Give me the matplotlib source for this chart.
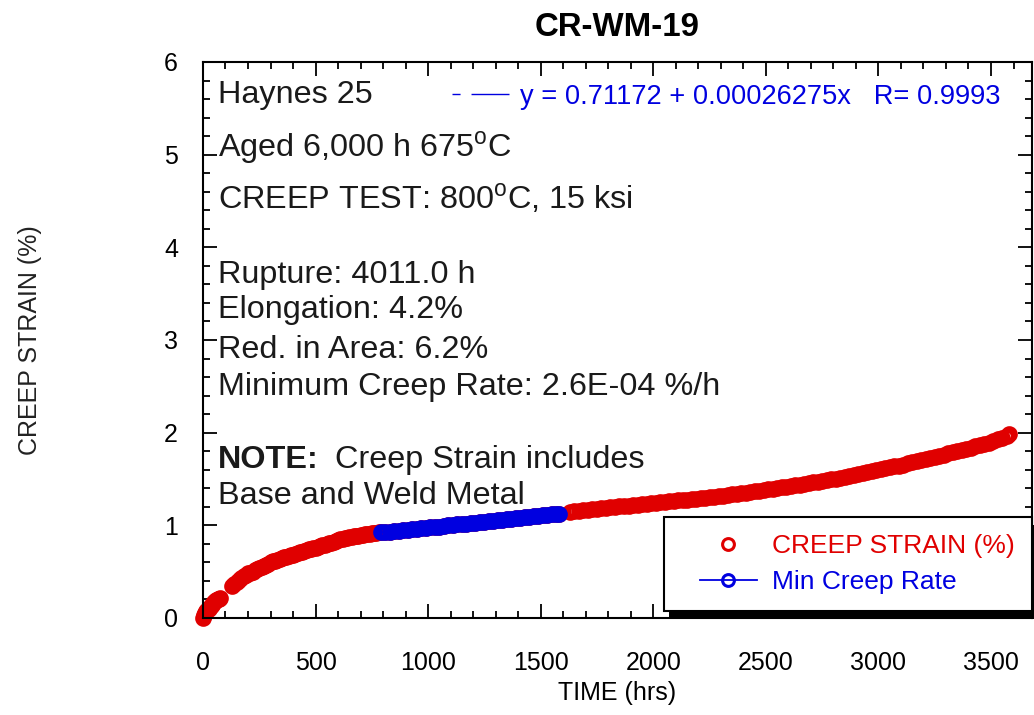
import matplotlib
matplotlib.use("Agg")
import matplotlib.pyplot as plt
from matplotlib.ticker import MultipleLocator
from matplotlib.patches import Rectangle
from matplotlib.transforms import IdentityTransform
from matplotlib.lines import Line2D
from matplotlib.legend_handler import HandlerLine2D

plt.rcParams['font.family'] = ['Liberation Sans', 'DejaVu Sans']
plt.rcParams['mathtext.fontset'] = 'custom'
plt.rcParams['mathtext.rm'] = 'Liberation Sans'

# creep readings: time (h) and creep strain (%)
time_h = [
    0, 5, 10, 15, 20, 25, 30, 35, 40, 45, 50, 55, 60, 65, 70, 75,
    130, 140, 150, 160, 170, 180, 190, 200, 210, 220,
    230, 240, 250, 260, 270, 280, 290, 300, 310, 320,
    330, 340, 350, 360, 370, 380, 390, 400, 410, 420,
    430, 440, 450, 460, 470, 480, 490, 500, 510, 520,
    530, 540, 550, 560, 570, 580, 590, 600, 610, 620,
    630, 640, 650, 660, 670, 680, 690, 700, 710, 720,
    730, 740, 750, 760, 770, 780,
    790, 810, 830, 850, 870, 890, 910, 930, 950, 970,
    990, 1010, 1030, 1050, 1070, 1090, 1110, 1130, 1150, 1170,
    1190, 1210, 1230, 1250, 1270, 1290, 1310, 1330, 1350, 1370,
    1390, 1410, 1430, 1450, 1470, 1490, 1510, 1530, 1550, 1570, 1580,
    1630, 1650, 1670, 1690, 1710, 1730, 1750, 1770, 1790, 1810,
    1830, 1850, 1870, 1890, 1910, 1930, 1950, 1970, 1990, 2010,
    2030, 2050, 2070, 2090, 2110, 2130, 2150, 2170, 2190, 2210,
    2230, 2250, 2270, 2290, 2310, 2330, 2350, 2370, 2390, 2410,
    2430, 2450, 2470, 2490, 2510, 2530, 2550, 2570, 2590, 2610,
    2630, 2650, 2670, 2690, 2710, 2730, 2750, 2770, 2790, 2810,
    2830, 2850, 2870, 2890, 2910, 2930, 2950, 2970, 2990, 3010,
    3030, 3050, 3070, 3090, 3110, 3130, 3150, 3170, 3190, 3210,
    3230, 3250, 3270, 3290, 3310, 3330, 3350, 3370, 3390, 3410,
    3430, 3450, 3470, 3490, 3510, 3530, 3550, 3570, 3582,
]
strain = [
    0.00, 0.03, 0.05, 0.07, 0.09, 0.10, 0.12, 0.13, 0.14, 0.16, 0.17, 0.18, 0.19, 0.20, 0.21, 0.22,
    0.35, 0.37, 0.39, 0.41, 0.43, 0.45, 0.46, 0.48, 0.49, 0.50,
    0.52, 0.53, 0.54, 0.55, 0.56, 0.57, 0.58, 0.60, 0.61, 0.62,
    0.63, 0.64, 0.65, 0.655, 0.66, 0.67, 0.675, 0.68, 0.69, 0.70,
    0.71, 0.715, 0.72, 0.73, 0.74, 0.745, 0.75, 0.76, 0.77, 0.78,
    0.785, 0.79, 0.80, 0.805, 0.81, 0.82, 0.83, 0.84, 0.85, 0.855,
    0.86, 0.865, 0.87, 0.875, 0.88, 0.885, 0.89, 0.895, 0.90, 0.905,
    0.91, 0.91, 0.915, 0.92, 0.92, 0.925,
    0.925, 0.928, 0.932, 0.936, 0.941, 0.946, 0.950, 0.956, 0.962, 0.966,
    0.971, 0.977, 0.983, 0.987, 0.993, 0.998, 1.003, 1.009, 1.014, 1.018,
    1.024, 1.030, 1.035, 1.040, 1.045, 1.051, 1.056, 1.061, 1.066, 1.072,
    1.077, 1.082, 1.087, 1.093, 1.098, 1.103, 1.108, 1.114, 1.119, 1.124, 1.127,
    1.145, 1.150, 1.155, 1.160, 1.166, 1.171, 1.177, 1.182, 1.187, 1.193,
    1.198, 1.203, 1.208, 1.213, 1.218, 1.223, 1.228, 1.233, 1.238, 1.243,
    1.248, 1.253, 1.258, 1.263, 1.268, 1.273, 1.278, 1.283, 1.288, 1.293,
    1.298, 1.303, 1.308, 1.313, 1.319, 1.326, 1.333, 1.340, 1.347, 1.354,
    1.361, 1.368, 1.375, 1.382, 1.389, 1.396, 1.403, 1.410, 1.417, 1.424,
    1.432, 1.440, 1.448, 1.456, 1.464, 1.472, 1.480, 1.488, 1.496, 1.505,
    1.515, 1.525, 1.535, 1.545, 1.555, 1.565, 1.575, 1.585, 1.595, 1.605,
    1.615, 1.625, 1.635, 1.645, 1.656, 1.668, 1.680, 1.692, 1.704, 1.716,
    1.728, 1.740, 1.752, 1.764, 1.776, 1.788, 1.800, 1.812, 1.824, 1.837,
    1.851, 1.865, 1.879, 1.893, 1.908, 1.927, 1.947, 1.967, 1.980,
]

# secondary (minimum rate) window and linear fit over it
mcr_start = 790
mcr_end = 1580
fit_a = 0.71172
fit_b = 0.00026275
fit_r = 0.9993

info_lines = [
    "Haynes 25",
    "Aged 6,000 h 675$^{\\rm o}$C",
    "CREEP TEST: 800$^{\\rm o}$C, 15 ksi",
    "Rupture: 4011.0 h",
    "Elongation: 4.2%",
    "Red. in Area: 6.2%",
    "Minimum Creep Rate: 2.6E-04 %/h",
]
info_y = [5.557, 4.975, 4.414, 3.615, 3.237, 2.806, 2.406]

red = '#e00000'
blue = '#0000e0'

mcr_t = [t for t in time_h if mcr_start <= t <= mcr_end]
mcr_s = [s for t, s in zip(time_h, strain) if mcr_start <= t <= mcr_end]
fit_x = [mcr_start, mcr_end]
fit_y = [fit_a + fit_b * x for x in fit_x]

fig = plt.figure(figsize=(10.34, 7.15), dpi=100)
ax = fig.add_axes([0.1963, 0.1357, 0.8013, 0.7776])

ms, mew = 8.5, 3.5
ax.plot(time_h, strain, 'o', ms=ms, mfc='none', mec=red, mew=mew,
        clip_on=False, zorder=2)
fit_line, = ax.plot(fit_x, fit_y, color=blue, lw=1.0,
                    ls=(0, (5.8, 7.9, 27.4, 8)), zorder=3,
                    label=f"y = {fit_a} + {fit_b}x   R= {fit_r}")
ax.plot(mcr_t, mcr_s, 'o-', ms=ms, mfc='none', mec=blue, color=blue, mew=mew,
        lw=1.2, clip_on=False, zorder=4)

ax.set_xlim(0, 3680)
ax.set_ylim(0, 6)
ax.xaxis.set_major_locator(MultipleLocator(500))
ax.xaxis.set_minor_locator(MultipleLocator(100))
ax.yaxis.set_major_locator(MultipleLocator(1))
ax.yaxis.set_minor_locator(MultipleLocator(0.2))
ax.tick_params(which='both', direction='in', top=True, right=True, width=1.3)
ax.tick_params(which='major', length=10)
ax.tick_params(which='minor', length=5)
ax.tick_params(axis='x', labelsize=18, pad=24)
ax.tick_params(axis='y', labelsize=18, pad=18)
for sp in ax.spines.values():
    sp.set_linewidth(1.5)

ax.set_title("CR-WM-19", fontsize=23.8, fontweight='bold', pad=19)
ax.set_xlabel("TIME (hrs)", fontsize=18, labelpad=4)
ax.set_ylabel("CREEP STRAIN (%)", fontsize=18, color='#222222')
ax.yaxis.set_label_coords(-0.194, 0.5)

txt_color = '#1a1a1a'
fs_info = 23.3
for line, yy in zip(info_lines, info_y):
    ax.text(65, yy, line, fontsize=fs_info, color=txt_color, va='baseline')
note = ax.text(65, 1.619, "NOTE:", fontsize=fs_info, fontweight='bold',
               color=txt_color, va='baseline')
ax.annotate("Creep Strain includes", xy=(1, 0), xycoords=note,
            xytext=(17, 0), textcoords='offset pixels', fontsize=fs_info,
            color=txt_color, va='bottom')
ax.text(65, 1.230, "Base and Weld Metal", fontsize=fs_info, color=txt_color,
        va='baseline')

# fit equation shown as a frameless legend in the upper right
fit_leg = ax.legend(handles=[fit_line], loc='center right',
                    bbox_to_anchor=(0.962, 0.937), frameon=False,
                    fontsize=19.6, handlelength=2.1, handletextpad=0.37,
                    borderpad=0, borderaxespad=0, labelcolor=blue)
ax.add_artist(fit_leg)

handles = [
    Line2D([], [], ls='none', marker='o', ms=8.5, mfc='none', mec=red, mew=2.2),
    Line2D([], [], color=blue, lw=1.3, marker='o', ms=8.5, mfc='none', mec=blue, mew=2.2),
]
leg = ax.legend(handles, ['CREEP STRAIN (%)', 'Min Creep Rate'],
                loc='lower right', bbox_to_anchor=(1.0, 0.0126),
                fontsize=19, fancybox=False, framealpha=1,
                edgecolor='black', borderpad=0.65, labelspacing=0.45,
                handlelength=2.84, handletextpad=0.57, borderaxespad=0,
                labelcolor=[red, blue],
                handler_map={Line2D: HandlerLine2D(xpad=0.68)})
leg.get_frame().set_linewidth(1.5)
leg.set_zorder(6)

# solid black drop shadow behind the legend box
fig.canvas.draw()
bb = leg.get_window_extent()
ax.add_artist(Rectangle((bb.x0 + 5, bb.y0 - 8), bb.width, bb.height,
                        transform=IdentityTransform(), facecolor='black',
                        edgecolor='none', zorder=5.5, clip_on=False))

fig.savefig("out.png", dpi=100, facecolor='white')
